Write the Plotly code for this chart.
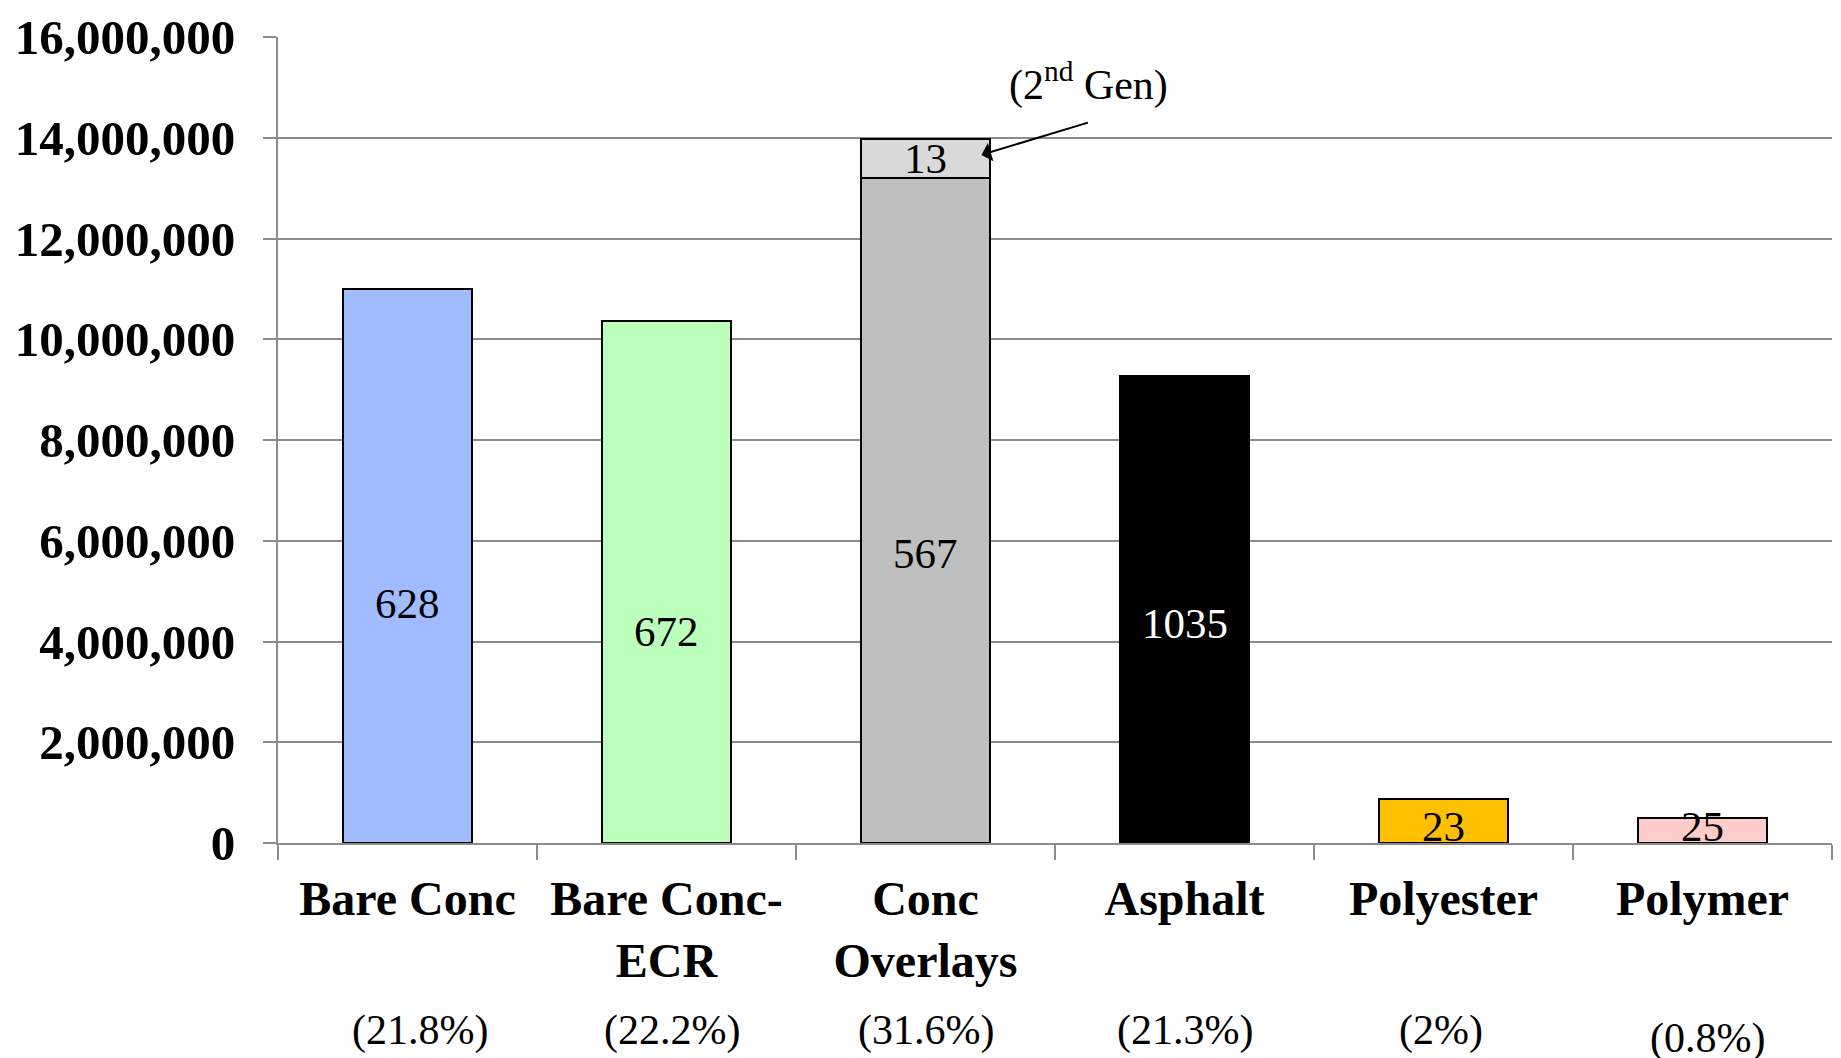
import plotly.graph_objects as go

categories = ["Bare Conc", "Bare Conc-<br>ECR", "Conc<br>Overlays", "Asphalt", "Polyester", "Polymer"]
main_values = [11.0e6, 10.36e6, 13.2e6, 9.27e6, 0.87e6, 0.50e6]
second_gen_values = [0, 0, 0.78e6, 0, 0, 0]
counts = ["628", "672", "567", "1035", "23", "25"]
count_label_y = [4.75e6, 4.19e6, 5.75e6, 4.35e6, 0.33e6, 0.33e6]
second_gen_count = "13"
shares = ["(21.8%)", "(22.2%)", "(31.6%)", "(21.3%)", "(2%)", "(0.8%)"]
y_ticks = [0, 2e6, 4e6, 6e6, 8e6, 10e6, 12e6, 14e6, 16e6]

bar_colors = ["#A0BCFF", "#BBFFBB", "#BFBFBF", "#000000", "#FFC000", "#FFCCCC"]
label_colors = ["black", "black", "black", "white", "black", "black"]
FONT = "Liberation Serif, Times New Roman, serif"
GRID = "#8C8C8C"

fig = go.Figure()
fig.add_trace(go.Bar(
    x=categories, y=main_values, width=0.5,
    marker=dict(color=bar_colors, line=dict(color="black", width=2)),
    hoverinfo="skip", showlegend=False,
))
fig.add_trace(go.Bar(
    x=categories, y=second_gen_values, width=0.5,
    marker=dict(color="#D9D9D9", line=dict(color="black", width=2)),
    hoverinfo="skip", showlegend=False,
))

annotations = []
for i, (c, ly, col) in enumerate(zip(counts, count_label_y, label_colors)):
    annotations.append(dict(x=i, y=ly, xref="x", yref="y", text=c, showarrow=False,
                            font=dict(family=FONT, size=43, color=col)))
annotations.append(dict(x=2, y=main_values[2] + second_gen_values[2] / 2, xref="x", yref="y",
                        text=second_gen_count, showarrow=False,
                        font=dict(family=FONT, size=43, color="black")))
share_offsets = [0.05, 0.02, 0.0, 0.0, -0.01, 0.02]
share_y = [-0.233, -0.233, -0.233, -0.233, -0.233, -0.243]
for i, (s, dx, sy) in enumerate(zip(shares, share_offsets, share_y)):
    annotations.append(dict(x=i + dx, y=sy, xref="x", yref="paper", yanchor="middle",
                            text=s, showarrow=False,
                            font=dict(family=FONT, size=42, color="black")))
# 2nd Gen callout
annotations.append(dict(x=2.63, y=15.1e6, xref="x", yref="y", text="(2<sup>nd</sup> Gen)",
                        showarrow=False, font=dict(family=FONT, size=42, color="black")))
annotations.append(dict(x=2.216, y=13.66e6, ax=2.633, ay=14.31e6, xref="x", yref="y",
                        axref="x", ayref="y", text="", showarrow=True, arrowhead=1,
                        arrowsize=1.6, arrowwidth=2, arrowcolor="black"))

fig.update_layout(
    width=1841, height=1058,
    margin=dict(l=270, r=17, t=29, b=223),
    plot_bgcolor="white", paper_bgcolor="white",
    barmode="stack",
    font=dict(family=FONT, color="black"),
    annotations=annotations,
)
fig.update_xaxes(
    type="category", tickson="boundaries", ticks="outside", ticklen=15,
    tickwidth=1.5, tickcolor=GRID, showline=True, linecolor=GRID, linewidth=2,
    showgrid=False, tickangle=0, ticklabelstandoff=12, automargin=False,
    tickfont=dict(family=FONT, size=48, color="black", weight="bold"),
    range=[-0.5, 5.5],
)
fig.update_yaxes(
    range=[0, 16e6], tickvals=y_ticks, tickformat=",d", ticks="outside", ticklen=13,
    tickwidth=1.5, tickcolor=GRID, showline=True, linecolor=GRID, linewidth=2,
    showgrid=True, gridcolor=GRID, gridwidth=1.5, zeroline=False,
    ticklabelstandoff=18, automargin=False,
    tickfont=dict(family=FONT, size=49, color="black", weight="bold"),
)

fig.write_html("out.html")
